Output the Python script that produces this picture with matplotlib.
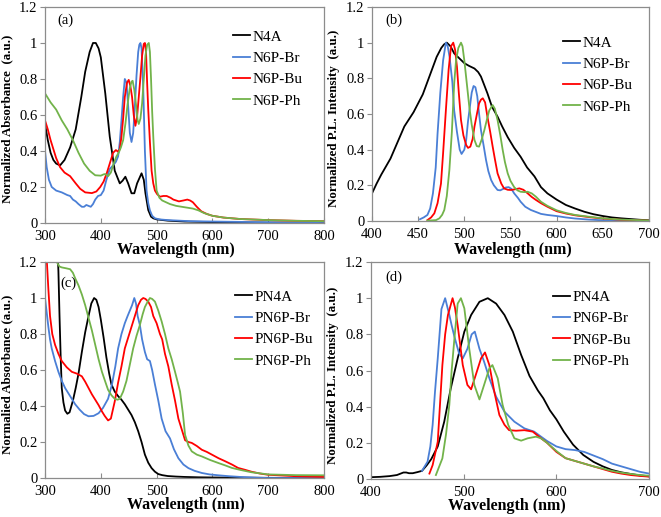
import matplotlib
matplotlib.use('Agg')
import matplotlib.pyplot as plt

plt.rcParams['font.family'] = ['Liberation Serif', 'DejaVu Serif']

# ---- data ----
yticks = [0, 0.2, 0.4, 0.6, 0.8, 1.0, 1.2]
ytick_labels = ['0', '0.2', '0.4', '0.6', '0.8', '1', '1.2']
abs_xticks = [300, 400, 500, 600, 700, 800]
pl_xticks = [400, 450, 500, 550, 600, 650, 700]
pl_xticks_d = [400, 500, 600, 700]

names_top = ['N4A', 'N6P-Br', 'N6P-Bu', 'N6P-Ph']
names_bot = ['PN4A', 'PN6P-Br', 'PN6P-Bu', 'PN6P-Ph']
colors = ['#000000', '#4a7fd6', '#ff0000', '#72b34a']

# (a) absorbance
a_n4a_wl = [300, 305, 310, 315, 320, 327, 335, 345, 355, 365, 372, 380, 386, 391, 396, 400, 408, 416, 425,
            434, 439, 444, 449, 455, 460, 465, 473, 477, 480, 485, 490, 494, 500, 520, 550, 600, 650, 700, 800]
a_n4a = [0.55, 0.46, 0.39, 0.35, 0.33, 0.32, 0.35, 0.42, 0.52, 0.7, 0.84, 0.95, 1.0, 1.0, 0.97, 0.92, 0.72, 0.48, 0.29,
         0.22, 0.235, 0.257, 0.22, 0.165, 0.165, 0.22, 0.276, 0.24, 0.165, 0.072, 0.035, 0.026, 0.02, 0.013, 0.008,
         0.005, 0.003, 0.002, 0.0]
a_br_wl = [300, 303, 307, 312, 320, 330, 340, 345, 350, 355, 360, 366, 370, 374, 378, 382, 386, 390, 395, 400, 405,
           410, 416, 422, 427, 431, 434, 437, 440, 443, 446, 449, 452, 455, 458, 461, 464, 467, 469, 471, 473, 476,
           479, 482, 485, 488, 492, 497, 505, 520, 540, 560, 600, 650, 700, 800]
a_br = [0.40, 0.31, 0.24, 0.2, 0.18, 0.17, 0.155, 0.15, 0.13, 0.12, 0.105, 0.09, 0.09, 0.1, 0.095, 0.09, 0.105, 0.13,
        0.15, 0.155, 0.18, 0.24, 0.3, 0.32, 0.34, 0.37, 0.45, 0.57, 0.7, 0.8, 0.78, 0.65, 0.5, 0.45, 0.5, 0.65, 0.82,
        0.95, 0.99, 1.0, 0.97, 0.75, 0.4, 0.18, 0.11, 0.07, 0.04, 0.026, 0.02, 0.016, 0.013, 0.01, 0.008, 0.006,
        0.004, 0.0]
a_bu_wl = [300, 305, 310, 315, 320, 327, 335, 345, 355, 363, 372, 384, 392, 399, 405, 411, 417, 422, 427, 431, 434,
           437, 440, 443, 447, 450, 453, 456, 459, 462, 465, 468, 471, 474, 477, 479, 481, 483, 485, 488, 491, 494,
           497, 501, 506, 512, 518, 525, 530, 540, 548, 555, 560, 565, 572, 580, 590, 600, 620, 650, 700, 750, 800]
a_bu = [0.57, 0.52, 0.46, 0.41, 0.36, 0.31, 0.28, 0.26, 0.22, 0.19, 0.17, 0.166, 0.175, 0.2, 0.23, 0.28, 0.34, 0.39,
        0.405, 0.396, 0.41, 0.48, 0.58, 0.7, 0.78, 0.795, 0.76, 0.7, 0.6, 0.54, 0.59, 0.7, 0.81, 0.93, 0.995, 1.0,
        0.95, 0.78, 0.63, 0.45, 0.29, 0.22, 0.18, 0.16, 0.146, 0.15, 0.15, 0.14, 0.13, 0.12, 0.125, 0.13, 0.125,
        0.115, 0.09, 0.065, 0.05, 0.04, 0.03, 0.022, 0.016, 0.012, 0.01]
a_ph_wl = [300, 310, 320, 330, 340, 350, 360, 370, 380, 390, 400, 405, 408, 413, 418, 423, 428, 432, 436, 440, 444,
           448, 452, 455, 457, 460, 463, 466, 468, 471, 474, 477, 480, 483, 486, 488, 490, 492, 494, 497, 500, 505,
           510, 517, 524, 535, 545, 555, 565, 575, 585, 600, 620, 650, 700, 750, 800]
a_ph = [0.72, 0.67, 0.63, 0.57, 0.52, 0.46, 0.39, 0.33, 0.29, 0.265, 0.263, 0.27, 0.272, 0.26, 0.28, 0.33, 0.37, 0.39,
        0.42, 0.46, 0.55, 0.66, 0.75, 0.785, 0.79, 0.74, 0.66, 0.57, 0.55, 0.58, 0.665, 0.8, 0.93, 0.99, 1.0, 0.95,
        0.8, 0.62, 0.48, 0.3, 0.18, 0.14, 0.125, 0.115, 0.105, 0.095, 0.09, 0.085, 0.08, 0.07, 0.055, 0.04, 0.03,
        0.022, 0.016, 0.012, 0.01]

# (b) photoluminescence
b_n4a_wl = [400, 405, 410, 415, 420, 425, 430, 435, 440, 445, 450, 455, 460, 465, 470, 475, 478, 481, 485, 489, 495,
            500, 505, 511, 515, 518, 521, 525, 530, 536, 541, 547, 554, 561, 568, 576, 583, 590, 600, 610, 620, 630,
            640, 650, 660, 670, 680, 690, 700]
b_n4a = [0.155, 0.21, 0.26, 0.305, 0.35, 0.41, 0.47, 0.53, 0.57, 0.61, 0.66, 0.71, 0.78, 0.85, 0.92, 0.97, 0.99, 1.0,
         0.98, 0.94, 0.91, 0.885, 0.87, 0.855, 0.835, 0.81, 0.77, 0.716, 0.64, 0.585, 0.53, 0.47, 0.41, 0.36, 0.3,
         0.25, 0.19, 0.155, 0.12, 0.09, 0.07, 0.052, 0.038, 0.028, 0.02, 0.015, 0.011, 0.007, 0.004]
b_br_wl = [452, 456, 460, 463, 466, 469, 471, 474, 477, 480, 482, 484, 487, 489, 492, 495, 497, 500, 502, 504, 506.5,
           508, 510, 512, 514, 516, 518, 521, 523.5, 526, 529, 532, 536, 539, 542, 545, 548, 551, 554, 558, 561, 566,
           572, 578, 583, 590, 600, 610, 620, 635, 650, 665, 680]
b_br = [0.01, 0.02, 0.034, 0.07, 0.155, 0.3, 0.49, 0.72, 0.9, 1.0, 0.98, 0.92, 0.78, 0.62, 0.5, 0.4, 0.376, 0.4, 0.454,
        0.56, 0.66, 0.72, 0.757, 0.75, 0.7, 0.6, 0.51, 0.42, 0.342, 0.28, 0.23, 0.2, 0.174, 0.172, 0.18, 0.188, 0.19,
        0.18, 0.155, 0.13, 0.108, 0.08, 0.062, 0.05, 0.04, 0.034, 0.028, 0.02, 0.014, 0.008, 0.004, 0.002, 0.0]
b_bu_wl = [460, 464, 467.5, 471, 474.7, 477, 480, 483, 485.6, 488, 490, 492, 494, 496.4, 499, 502, 504, 506.5, 509,
           511, 514, 516, 518, 520, 522.5, 525, 528, 530.7, 533, 536, 540, 543, 547, 550.5, 555, 559.6, 564, 568.6,
           573, 577.6, 583, 590, 600, 610, 620, 635, 650, 670, 700]
b_bu = [0.005, 0.02, 0.043, 0.1, 0.21, 0.38, 0.62, 0.85, 0.98, 1.0, 0.96, 0.865, 0.72, 0.566, 0.48, 0.426, 0.41,
        0.417, 0.46, 0.53, 0.61, 0.66, 0.68, 0.688, 0.665, 0.585, 0.5, 0.417, 0.35, 0.267, 0.21, 0.183, 0.175, 0.174,
        0.178, 0.183, 0.175, 0.155, 0.135, 0.118, 0.1, 0.08, 0.055, 0.042, 0.032, 0.022, 0.014, 0.007, 0.002]
b_ph_wl = [460, 466, 469.3, 473, 476, 478.3, 481, 483.8, 486.5, 489, 491, 493.5, 496.4, 498, 500, 502.5, 505.4, 508,
           511, 513.5, 516, 519, 521.7, 524.5, 527, 530.7, 533, 536, 539, 541.5, 544, 547, 550, 554, 557.5, 561, 565,
           568.6, 573, 577.6, 583, 590, 600, 610, 620, 635, 650, 670, 700]
b_ph = [0.002, 0.004, 0.005, 0.015, 0.035, 0.062, 0.14, 0.286, 0.5, 0.77, 0.9, 0.97, 1.0, 0.98, 0.9, 0.78, 0.64,
        0.54, 0.454, 0.42, 0.417, 0.46, 0.51, 0.57, 0.62, 0.65, 0.63, 0.566, 0.48, 0.4, 0.33, 0.267, 0.225, 0.19,
        0.172, 0.164, 0.162, 0.164, 0.155, 0.136, 0.108, 0.085, 0.06, 0.045, 0.034, 0.024, 0.015, 0.008, 0.003]

# (c) absorbance, polymers
c_n4a_wl = [322, 324, 326, 328, 330, 333, 336, 340, 344, 350, 355, 360, 366, 372, 378, 383, 388, 392, 396, 400, 405,
            410, 415, 419, 425, 431, 437, 443, 449, 455, 461, 467, 473, 479, 485, 491, 497, 503, 510, 520, 535, 550,
            575, 600, 650, 700, 800]
c_n4a = [1.3, 1.15, 0.9, 0.68, 0.5, 0.42, 0.375, 0.357, 0.365, 0.43, 0.5, 0.58, 0.7, 0.81, 0.9, 0.97, 1.0, 0.99, 0.95,
         0.88, 0.78, 0.67, 0.58, 0.52, 0.48, 0.455, 0.435, 0.41, 0.38, 0.35, 0.31, 0.26, 0.2, 0.13, 0.085, 0.055,
         0.035, 0.022, 0.016, 0.011, 0.008, 0.006, 0.004, 0.003, 0.002, 0.001, 0.0]
c_br_wl = [300, 303, 306, 309, 312, 318, 324, 330, 336, 345, 354, 362, 370, 378, 387, 396, 404, 413, 420, 426, 431,
           437, 443, 448, 452, 456, 460, 463, 466, 470, 474, 479, 483, 488, 492, 497, 503, 509, 516, 524, 531, 539,
           548, 557, 568, 581, 595, 611, 630, 650, 680, 700, 800]
c_br = [1.0, 0.92, 0.84, 0.77, 0.72, 0.65, 0.59, 0.54, 0.5, 0.455, 0.41, 0.38, 0.355, 0.343, 0.345, 0.36, 0.39, 0.44,
        0.52, 0.62, 0.72, 0.8, 0.86, 0.9, 0.93, 0.96, 1.0, 0.97, 0.9, 0.85, 0.77, 0.7, 0.66, 0.65, 0.6, 0.52, 0.43,
        0.33, 0.26, 0.22, 0.16, 0.11, 0.075, 0.055, 0.04, 0.028, 0.02, 0.015, 0.01, 0.006, 0.002, 0.0, 0.0]
c_bu_wl = [300, 303, 306, 309, 313, 318, 324, 330, 339, 348, 357, 366, 372, 378, 384, 390, 396, 402, 407, 413, 418,
           425, 431, 437, 443, 450, 458, 463, 467, 472, 476, 480, 485, 490, 494, 500, 506, 510, 515, 521, 527, 533,
           539, 545, 551, 557, 563, 572, 581, 590, 599, 611, 623, 635, 646, 658, 670, 685, 700, 750, 800]
c_bu = [1.3, 1.22, 1.05, 0.9, 0.8, 0.74, 0.69, 0.65, 0.615, 0.59, 0.58, 0.565, 0.535, 0.5, 0.465, 0.435, 0.405, 0.37,
        0.345, 0.32, 0.33, 0.426, 0.53, 0.62, 0.72, 0.79, 0.87, 0.92, 0.96, 0.99, 1.0, 0.995, 0.98, 0.95, 0.9, 0.86,
        0.8, 0.77, 0.69, 0.62, 0.52, 0.43, 0.33, 0.27, 0.21, 0.2, 0.195, 0.178, 0.157, 0.145, 0.13, 0.11, 0.093,
        0.075, 0.056, 0.046, 0.035, 0.025, 0.018, 0.01, 0.006]
c_ph_wl = [318, 321, 326, 330, 338, 345, 350, 354, 360, 366, 372, 378, 384, 390, 396, 402, 408, 413, 419, 425, 430,
           434, 440, 446, 452, 458, 464, 470, 475, 479, 484, 488, 492, 497, 503, 509, 515, 521, 527, 533, 538, 542,
           547, 551, 557, 563, 572, 581, 596, 611, 623, 635, 650, 670, 700, 750, 800]
c_ph = [1.25, 1.2, 1.175, 1.17, 1.165, 1.16, 1.14, 1.11, 1.07, 1.02, 0.96, 0.89, 0.82, 0.74, 0.66, 0.59, 0.535, 0.49,
        0.46, 0.44, 0.435, 0.44, 0.48, 0.54, 0.63, 0.72, 0.79, 0.85, 0.91, 0.95, 0.98, 1.0, 0.995, 0.98, 0.93, 0.87,
        0.8, 0.72, 0.66, 0.59, 0.53, 0.48, 0.36, 0.24, 0.18, 0.148, 0.13, 0.12, 0.1, 0.083, 0.07, 0.056, 0.045,
        0.032, 0.02, 0.016, 0.015]

# (d) photoluminescence, polymers
d_n4a_wl = [400, 410, 420, 428, 432, 435, 438, 441, 445, 450, 455, 460, 465, 472, 479, 486, 493.5, 500.7, 508, 517,
            526, 535, 544, 553, 562, 571, 580, 586, 593, 600, 608, 618, 629, 640, 650, 660, 670, 680, 690, 700]
d_n4a = [0.01, 0.012, 0.016, 0.022, 0.03, 0.036, 0.036, 0.032, 0.032, 0.038, 0.045, 0.075, 0.11, 0.18, 0.317, 0.5,
         0.667, 0.815, 0.907, 0.98, 1.0, 0.97, 0.907, 0.815, 0.686, 0.57, 0.49, 0.446, 0.38, 0.33, 0.262, 0.19,
         0.133, 0.095, 0.07, 0.05, 0.037, 0.028, 0.02, 0.015]
d_br_wl = [455, 461, 464, 466.5, 469, 472, 476, 480, 484.5, 487, 490, 495, 499, 504, 508.6, 512, 517, 522, 527.7, 535,
           544, 554.7, 565.5, 576, 583.5, 590, 600, 610, 620, 630, 640, 650, 660, 670, 680, 690, 700]
d_br = [0.045, 0.096, 0.18, 0.3, 0.48, 0.667, 0.94, 1.0, 0.907, 0.85, 0.787, 0.695, 0.667, 0.72, 0.8, 0.815, 0.72,
        0.649, 0.557, 0.455, 0.372, 0.317, 0.28, 0.262, 0.234, 0.21, 0.18, 0.165, 0.16, 0.15, 0.13, 0.11, 0.085,
        0.07, 0.055, 0.04, 0.03]
d_bu_wl = [463, 466.5, 472, 477, 480, 483, 488, 490.5, 493.5, 499, 504, 508, 513, 518.7, 523, 527.7, 533, 538.5, 544,
           549, 556.5, 565.5, 574.5, 583.5, 590, 600, 610, 620, 630, 640, 650, 660, 670, 680, 690, 700]
d_bu = [0.03, 0.077, 0.206, 0.63, 0.8, 0.907, 1.0, 0.95, 0.85, 0.63, 0.52, 0.496, 0.575, 0.667, 0.7, 0.63, 0.483,
        0.354, 0.3, 0.27, 0.267, 0.27, 0.262, 0.225, 0.2, 0.15, 0.115, 0.1, 0.085, 0.07, 0.055, 0.04, 0.03, 0.022,
        0.017, 0.013]
d_ph_wl = [470, 477, 481, 484.5, 487, 490, 493.5, 497, 500.7, 506, 511.5, 517, 522, 527.7, 531, 536.7, 542, 548,
           554.7, 562, 569, 578, 583.5, 590, 600, 610, 620, 630, 640, 650, 660, 670, 680, 690, 700]
d_ph = [0.022, 0.114, 0.25, 0.41, 0.6, 0.778, 0.97, 1.0, 0.944, 0.72, 0.52, 0.44, 0.52, 0.612, 0.63, 0.557, 0.41,
        0.3, 0.225, 0.212, 0.225, 0.234, 0.225, 0.2, 0.155, 0.115, 0.1, 0.085, 0.07, 0.058, 0.045, 0.035, 0.028,
        0.022, 0.018]

# ---- figure ----
fig = plt.figure(figsize=(6.61, 5.17), dpi=100)

panels = [
    # rect, curves, names, xlim, xticks, ylabel, tag, tag pos, legend anchor, xlabel x, xlabel top
    ([0.0681, 0.5687, 0.4221, 0.4178],
     [(a_n4a_wl, a_n4a), (a_br_wl, a_br), (a_bu_wl, a_bu), (a_ph_wl, a_ph)],
     names_top, (300, 800), abs_xticks, 'Normalized Absorbance  (a.u.)', '(a)', (0.043, 0.94),
     (0.674, 0.893), 0.47, -0.09),
    ([0.5628, 0.5725, 0.4190, 0.4140],
     [(b_n4a_wl, b_n4a), (b_br_wl, b_br), (b_bu_wl, b_bu), (b_ph_wl, b_ph)],
     names_top, (400, 700), pl_xticks, 'Normalized P.L. Intensity  (a.u.)', '(b)', (0.047, 0.94),
     (0.69, 0.865), 0.51, -0.1),
    ([0.0681, 0.0754, 0.4221, 0.4178],
     [(c_n4a_wl, c_n4a), (c_br_wl, c_br), (c_bu_wl, c_bu), (c_ph_wl, c_ph)],
     names_bot, (300, 800), abs_xticks, 'Normalied Absorbance (a.u.)', '(c)', (0.054, 0.90),
     (0.681, 0.87), 0.505, -0.09),
    ([0.5613, 0.0735, 0.4206, 0.4197],
     [(d_n4a_wl, d_n4a), (d_br_wl, d_br), (d_bu_wl, d_bu), (d_ph_wl, d_ph)],
     names_bot, (400, 700), pl_xticks_d, 'Normalized P.L. Intensity  (a.u.)', '(d)', (0.05, 0.93),
     (0.655, 0.87), 0.49, -0.088),
]

for rect, curves, names, xlim, xticks, ylabel, tag, tagpos, leg_anchor, xlx, xly in panels:
    ax = fig.add_axes(rect)
    for (wl, val), name, col in zip(curves, names, colors):
        ax.plot(wl, val, color=col, lw=1.3, label=name)
    ax.set_xlim(*xlim)
    ax.set_ylim(0, 1.2)
    ax.set_xticks(xticks)
    ax.set_yticks(yticks)
    ax.set_yticklabels(ytick_labels)
    for sp in ax.spines.values():
        sp.set_color('#8c8c8c')
        sp.set_linewidth(0.9)
    ax.tick_params(axis='y', direction='out', length=3.5, color='#8c8c8c', labelsize=10.5, pad=2)
    ax.tick_params(axis='x', direction='in', length=3.5, color='#8c8c8c', labelsize=10.5, pad=5)
    ax.set_xlabel('Wavelength (nm)', fontsize=11.5, fontweight='bold')
    ax.xaxis.set_label_coords(xlx, xly)
    ax.set_ylabel(ylabel, fontsize=9.3, fontweight='bold')
    ax.yaxis.set_label_coords(-0.115, 0.48)
    ax.text(tagpos[0], tagpos[1], tag, transform=ax.transAxes, fontsize=10.5, va='center', ha='left')
    ax.legend(loc='upper left', bbox_to_anchor=leg_anchor, frameon=False, fontsize=11,
              handlelength=1.1, handletextpad=0.15, labelspacing=0.5, borderpad=0, borderaxespad=0)

fig.savefig('out.png', dpi=100)
